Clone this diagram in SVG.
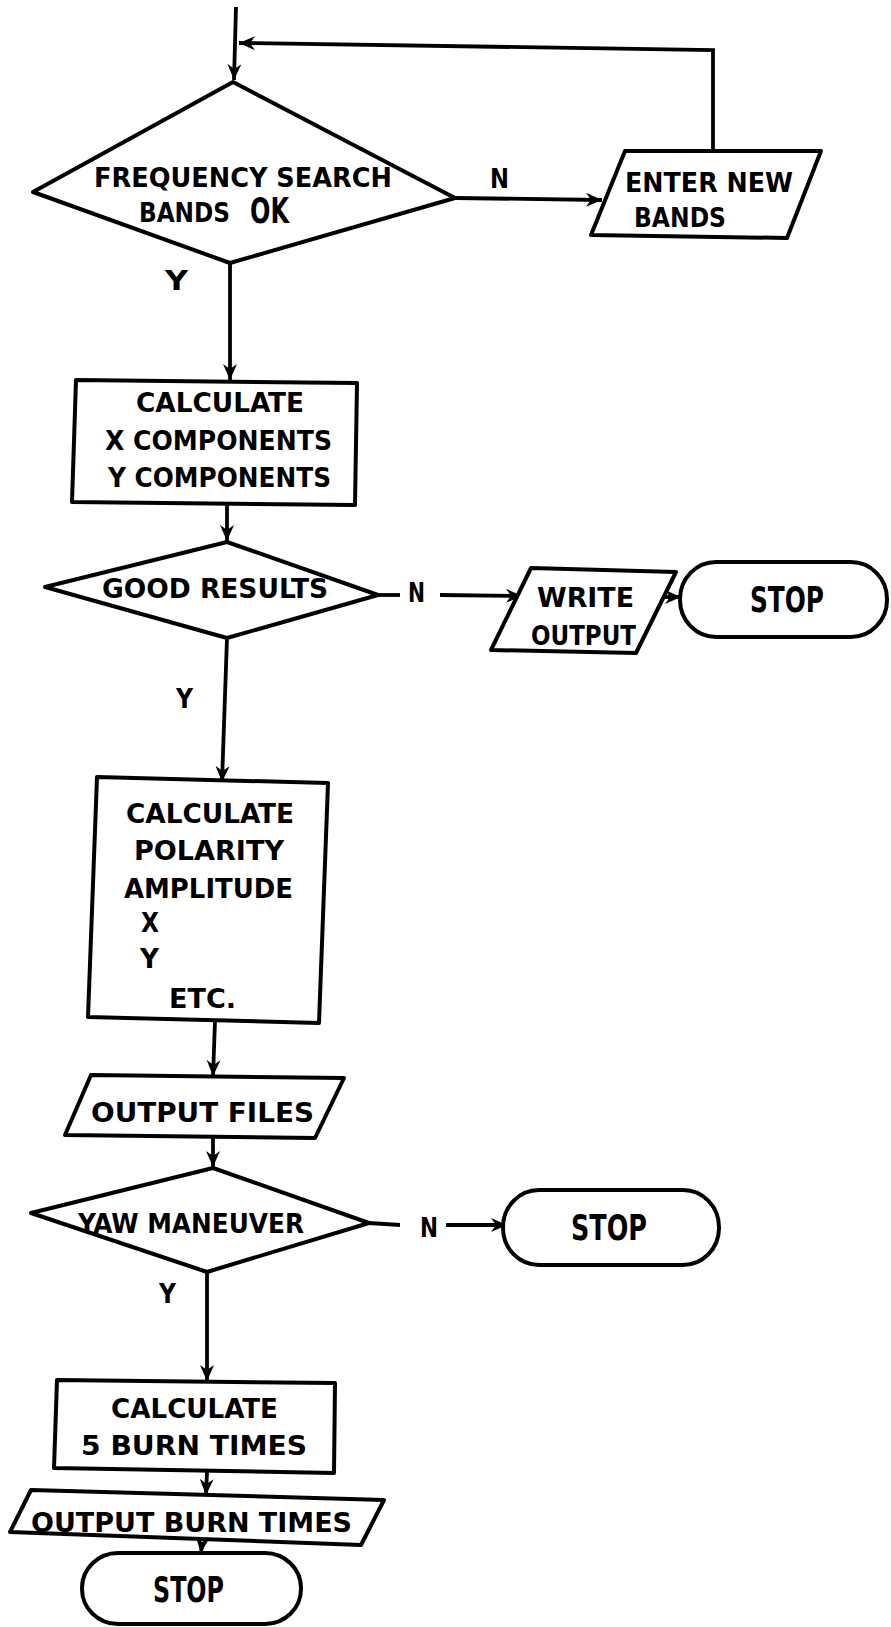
<svg xmlns="http://www.w3.org/2000/svg" width="891" height="1627" viewBox="0 0 891 1627">
<style>
.s{fill:#fff;stroke:#000;stroke-width:4;stroke-linejoin:round}
.c{fill:none;stroke:#000;stroke-width:3.8}
text{font-family:"Liberation Sans Narrow","DejaVu Sans Condensed","Liberation Sans",Arial,sans-serif;font-stretch:condensed;font-weight:bold;font-size:27px;fill:#000}
.big{font-size:35px}
</style>
<defs>
<marker id="a" markerUnits="userSpaceOnUse" markerWidth="20" markerHeight="16" refX="16" refY="7" orient="auto">
<path d="M0,0 L16,7 L0,14 L5,7 z" fill="#000"/>
</marker>
</defs>
<rect width="891" height="1627" fill="#fff"/>
<g id="connectors">
<path class="c" d="M236,7 L234,80" marker-end="url(#a)"/>
<path class="c" d="M713,150 L713,50 L239,43" marker-end="url(#a)"/>
<path class="c" d="M455,198 L602,200" marker-end="url(#a)"/>
<path class="c" d="M230,263 L230,380" marker-end="url(#a)"/>
<path class="c" d="M227,505 L227,541" marker-end="url(#a)"/>
<path class="c" d="M378,595 L400,595"/>
<path class="c" d="M440,595 L522,596" marker-end="url(#a)"/>
<path class="c" d="M652,597 L681,597" marker-end="url(#a)"/>
<path class="c" d="M227,638 L222,782" marker-end="url(#a)"/>
<path class="c" d="M215,1021 L213,1076" marker-end="url(#a)"/>
<path class="c" d="M213,1138 L213,1167" marker-end="url(#a)"/>
<path class="c" d="M369,1223 L400,1225"/>
<path class="c" d="M446,1225 L507,1225" marker-end="url(#a)"/>
<path class="c" d="M207,1272 L207,1381" marker-end="url(#a)"/>
<path class="c" d="M207,1472 L206,1495" marker-end="url(#a)"/>
<path class="c" d="M202,1543 L201,1553" marker-end="url(#a)"/>
</g>
<g id="labels">
<text x="490" y="188" textLength="19" lengthAdjust="spacingAndGlyphs">N</text>
<text x="165" y="290" textLength="23" lengthAdjust="spacingAndGlyphs">Y</text>
<text x="408" y="602" textLength="17" lengthAdjust="spacingAndGlyphs">N</text>
<text x="176" y="708" textLength="17" lengthAdjust="spacingAndGlyphs">Y</text>
<text x="420" y="1237" textLength="18" lengthAdjust="spacingAndGlyphs">N</text>
<text x="159" y="1303" textLength="17" lengthAdjust="spacingAndGlyphs">Y</text>
</g>
<g id="n1">
<polygon class="s" points="233,82 455,198 230,263 33,192"/>
<text x="94" y="187" textLength="298" lengthAdjust="spacingAndGlyphs">FREQUENCY SEARCH</text>
<text x="139" y="222" textLength="91" lengthAdjust="spacingAndGlyphs">BANDS</text>
<text class="big" x="250" y="223" textLength="39" lengthAdjust="spacingAndGlyphs">OK</text>
</g>
<g id="n2">
<polygon class="s" points="625,151 821,151 787,238 591,235"/>
<text x="625" y="192" textLength="168" lengthAdjust="spacingAndGlyphs">ENTER NEW</text>
<text x="634" y="227" textLength="92" lengthAdjust="spacingAndGlyphs">BANDS</text>
</g>
<g id="n3">
<polygon class="s" points="76,380 357,383 355,505 72,502"/>
<text x="136" y="412" textLength="168" lengthAdjust="spacingAndGlyphs">CALCULATE</text>
<text x="105" y="450" textLength="227" lengthAdjust="spacingAndGlyphs">X COMPONENTS</text>
<text x="108" y="487" textLength="223" lengthAdjust="spacingAndGlyphs">Y COMPONENTS</text>
</g>
<g id="n4">
<polygon class="s" points="227,542 378,595 227,638 45,587"/>
<text x="102" y="598" textLength="226" lengthAdjust="spacingAndGlyphs">GOOD RESULTS</text>
</g>
<g id="n5">
<polygon class="s" points="531,568 676,572 636,653 491,650"/>
<text x="537" y="607" textLength="97" lengthAdjust="spacingAndGlyphs">WRITE</text>
<text x="531" y="645" textLength="105" lengthAdjust="spacingAndGlyphs">OUTPUT</text>
</g>
<g id="n6">
<rect class="s" x="680" y="562" width="207" height="75" rx="36" ry="37"/>
<text class="big" x="750" y="612" textLength="74" lengthAdjust="spacingAndGlyphs">STOP</text>
</g>
<g id="n7">
<polygon class="s" points="97,777 328,783 319,1023 88,1017"/>
<text x="126" y="823" textLength="168" lengthAdjust="spacingAndGlyphs">CALCULATE</text>
<text x="134" y="860" textLength="150" lengthAdjust="spacingAndGlyphs">POLARITY</text>
<text x="124" y="898" textLength="169" lengthAdjust="spacingAndGlyphs">AMPLITUDE</text>
<text x="141" y="932" textLength="18" lengthAdjust="spacingAndGlyphs">X</text>
<text x="140" y="968" textLength="19" lengthAdjust="spacingAndGlyphs">Y</text>
<text x="169" y="1008" textLength="67" lengthAdjust="spacingAndGlyphs">ETC.</text>
</g>
<g id="n8">
<polygon class="s" points="91,1075 344,1078 315,1138 65,1135"/>
<text x="91" y="1122" textLength="223" lengthAdjust="spacingAndGlyphs">OUTPUT FILES</text>
</g>
<g id="n9">
<polygon class="s" points="213,1168 369,1223 207,1272 31,1213"/>
<text x="78" y="1233" textLength="226" lengthAdjust="spacingAndGlyphs">YAW MANEUVER</text>
</g>
<g id="n10">
<rect class="s" x="503" y="1190" width="216" height="75" rx="36" ry="37"/>
<text class="big" x="571" y="1240" textLength="76" lengthAdjust="spacingAndGlyphs">STOP</text>
</g>
<g id="n11">
<polygon class="s" points="57,1380 335,1383 334,1473 54,1468"/>
<text x="111" y="1418" textLength="167" lengthAdjust="spacingAndGlyphs">CALCULATE</text>
<text x="81" y="1455" textLength="226" lengthAdjust="spacingAndGlyphs">5 BURN TIMES</text>
</g>
<g id="n12">
<polygon class="s" points="31,1490 384,1500 361,1545 10,1532"/>
<text x="31" y="1532" textLength="321" lengthAdjust="spacingAndGlyphs">OUTPUT BURN TIMES</text>
</g>
<g id="n13">
<rect class="s" x="82" y="1553" width="219" height="71" rx="36" ry="35"/>
<text class="big" x="153" y="1602" textLength="71" lengthAdjust="spacingAndGlyphs">STOP</text>
</g>
</svg>
